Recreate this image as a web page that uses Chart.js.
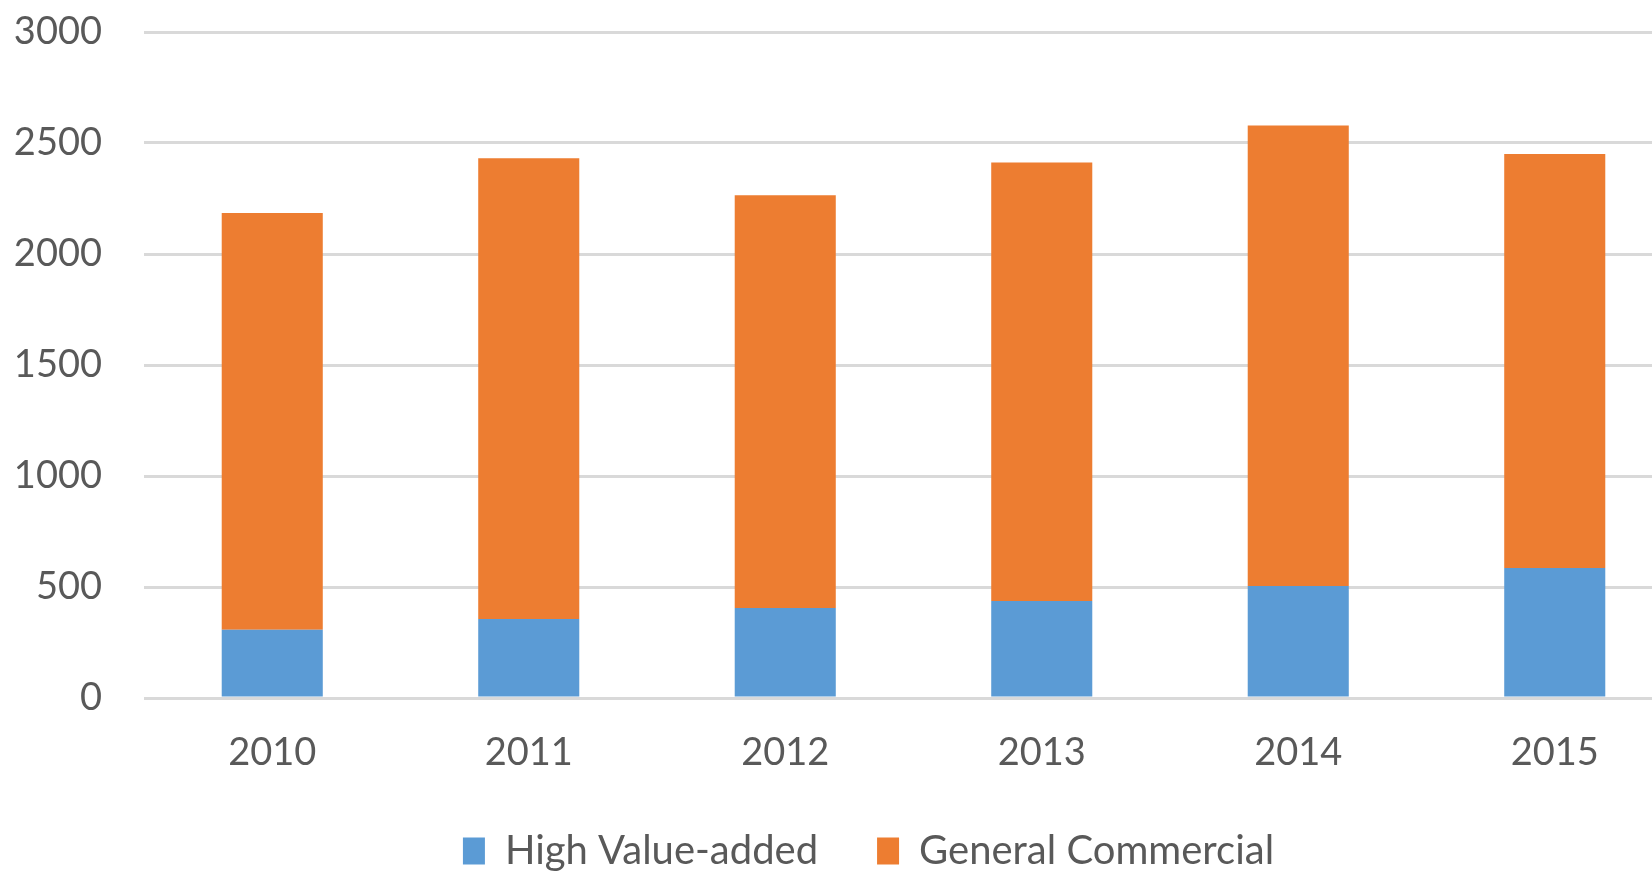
<!DOCTYPE html>
<html>
<head>
<meta charset="utf-8">
<script src="https://cdn.jsdelivr.net/npm/chart.js@4"></script>
<style>
  html, body { margin: 0; padding: 0; background: #fff; overflow: hidden; }
  #wrap { position: absolute; left: 0; top: 0; width: 1736px; height: 871px; }
</style>
</head>
<body>
<div id="wrap"><canvas id="stackChart" width="1736" height="871"></canvas></div>
<script>
// Chart data
const years = ['2010', '2011', '2012', '2013', '2014', '2015'];
const highValueAdded = [307, 356, 405, 437, 505, 586];
const generalCommercial = [1878, 2075, 1860, 1975, 2074, 1864];
const seriesNames = ['High Value-added', 'General Commercial'];
const yTicks = [0, 500, 1000, 1500, 2000, 2500, 3000];

const textColor = '#595959';
const gridColor = '#d9d9d9';
const tickFont = { family: 'Lato', size: 38, lineHeight: 1 };
const legendFont = { family: 'Lato', size: 40, lineHeight: 1 };

// nudge the legend right so it sits where the original's does
const legendShift = {
  id: 'legendShift',
  afterLayout: function (chart) {
    if (!chart.legend) return;
    chart.legend.left += 27;
    chart.legend.right += 27;
  }
};

const ctx = document.getElementById('stackChart');

new Chart(ctx, {
  type: 'bar',
  data: {
    labels: years,
    datasets: [
      {
        label: seriesNames[0],
        data: highValueAdded,
        backgroundColor: '#5b9bd5',
        borderWidth: 0
      },
      {
        label: seriesNames[1],
        data: generalCommercial,
        backgroundColor: '#ed7d31',
        borderWidth: 0
      }
    ]
  },
  options: {
    responsive: false,
    animation: false,
    datasets: {
      bar: { barPercentage: 0.394, categoryPercentage: 1 }
    },
    layout: {
      // plot runs past the right edge of the window, like the cropped original
      padding: { top: 32, right: 53, bottom: -10, left: 0 }
    },
    scales: {
      x: {
        stacked: true,
        grid: { display: false, drawTicks: false },
        border: { display: false },
        ticks: { color: textColor, font: tickFont, padding: 36 },
        afterFit: function (scale) { scale.height = 74; }
      },
      y: {
        stacked: true,
        min: yTicks[0],
        max: yTicks[yTicks.length - 1],
        grid: { color: gridColor, lineWidth: 3, drawTicks: false },
        border: { display: false },
        ticks: {
          stepSize: yTicks[1] - yTicks[0],
          color: textColor,
          font: tickFont,
          padding: 42,
          callback: (v) => String(v)
        },
        afterFit: function (scale) {
          // fixed axis width; don't let the tick padding push the plot down
          scale.width = 144;
          scale.paddingTop = 19;
          scale.paddingBottom = 19;
        }
      }
    },
    plugins: {
      legend: {
        position: 'bottom',
        labels: {
          color: textColor,
          font: legendFont,
          boxWidth: 22,
          boxHeight: 27,
          padding: 59
        }
      },
      tooltip: { enabled: false }
    }
  },
  plugins: [legendShift]
});
</script>
</body>
</html>
